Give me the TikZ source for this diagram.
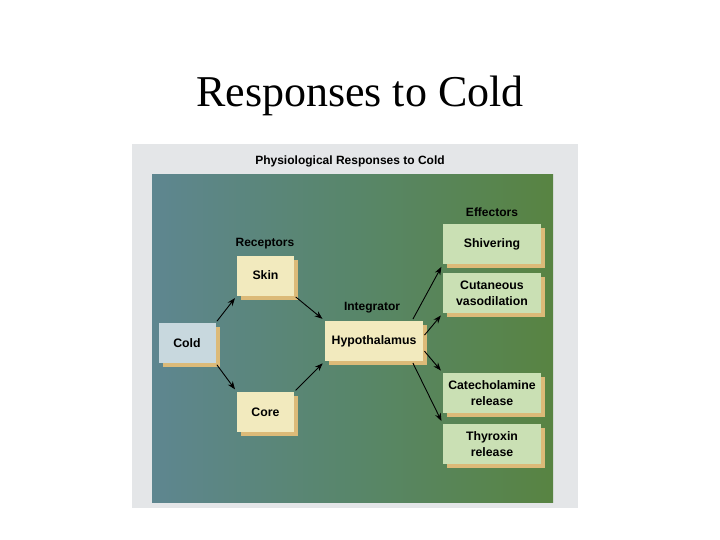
\documentclass[tikz,border=0pt]{standalone}
\usepackage{fontspec}
\setmainfont{Liberation Serif}
\newfontfamily\labfont{Liberation Sans}
\usetikzlibrary{arrows.meta,shadows}
\definecolor{framegrey}{RGB}{228,230,232}
\definecolor{bgleft}{RGB}{94,134,144}
\definecolor{bgmid}{RGB}{88,134,106}
\definecolor{bgright}{RGB}{88,132,66}
\definecolor{cream}{RGB}{242,234,190}
\definecolor{leaf}{RGB}{202,224,180}
\definecolor{sky}{RGB}{200,216,222}
\definecolor{boxshade}{RGB}{220,186,120}
\tikzset{
  stage/.style={fill=cream, minimum width=57pt, minimum height=40pt, inner sep=1pt,
    align=center, font=\labfont\bfseries\fontsize{12.3}{16}\selectfont,
    drop shadow={shadow xshift=4pt, shadow yshift=-4pt, fill=boxshade, opacity=1}},
  effector/.style={stage, fill=leaf, minimum width=98pt},
  tag/.style={font=\labfont\bfseries\fontsize{12}{14}\selectfont},
  link/.style={-{Stealth[length=8pt,width=6pt]}, line width=0.9pt,
    shorten <=2pt, shorten >=3pt}
}

\begin{document}
\begin{tikzpicture}[x=1pt,y=-1pt]
  \useasboundingbox[fill=white] (0,0) rectangle (720,540);
  \node (title) at (360,96) {\fontsize{44}{52}\selectfont Responses to Cold};
  % panel
  \fill[framegrey] (132,144) rectangle (578,508);
  \fill[left color=bgleft, right color=bgright, middle color=bgmid] (152,175) rectangle (553,502);
  \node[tag] (head) at (350,161) {Physiological Responses to Cold};
  % receptors
  \node[stage, fill=sky] (cold) at (187,343) {Cold};
  \node[stage] (skin) at (265.5,275.5) {Skin};
  \node[stage] (core) at (265.5,412) {Core};
  \node[tag] (receptors) at (265,244) {Receptors};
  % integrator
  \node[stage, minimum width=98pt] (hypo) at (374,341) {Hypothalamus};
  \node[tag] (integrator) at (372,308) {Integrator};
  % effectors
  \node[effector] (shiver) at (492,244) {Shivering};
  \node[effector] (vaso) at (492,293) {Cutaneous\\vasodilation};
  \node[effector] (cate) at (492,393) {Catecholamine\\release};
  \node[effector] (thyro) at (492,444) {Thyroxin\\release};
  \node[tag] (effectors) at (492,212) {Effectors};
  % arrows
  \draw[link] (cold.north east) -- (skin.south west);
  \draw[link] (cold.south east) -- (core.north west);
  \draw[link] (skin.south east) -- (hypo.north west);
  \draw[link] (core.north east) -- (hypo.south west);
  \draw[link] (hypo.28) -- (shiver.south west);
  \draw[link] (hypo.5) -- (vaso.south west);
  \draw[link] (hypo.-10) -- (cate.north west);
  \draw[link] (hypo.-28) -- (thyro.north west);
\end{tikzpicture}
\end{document}
